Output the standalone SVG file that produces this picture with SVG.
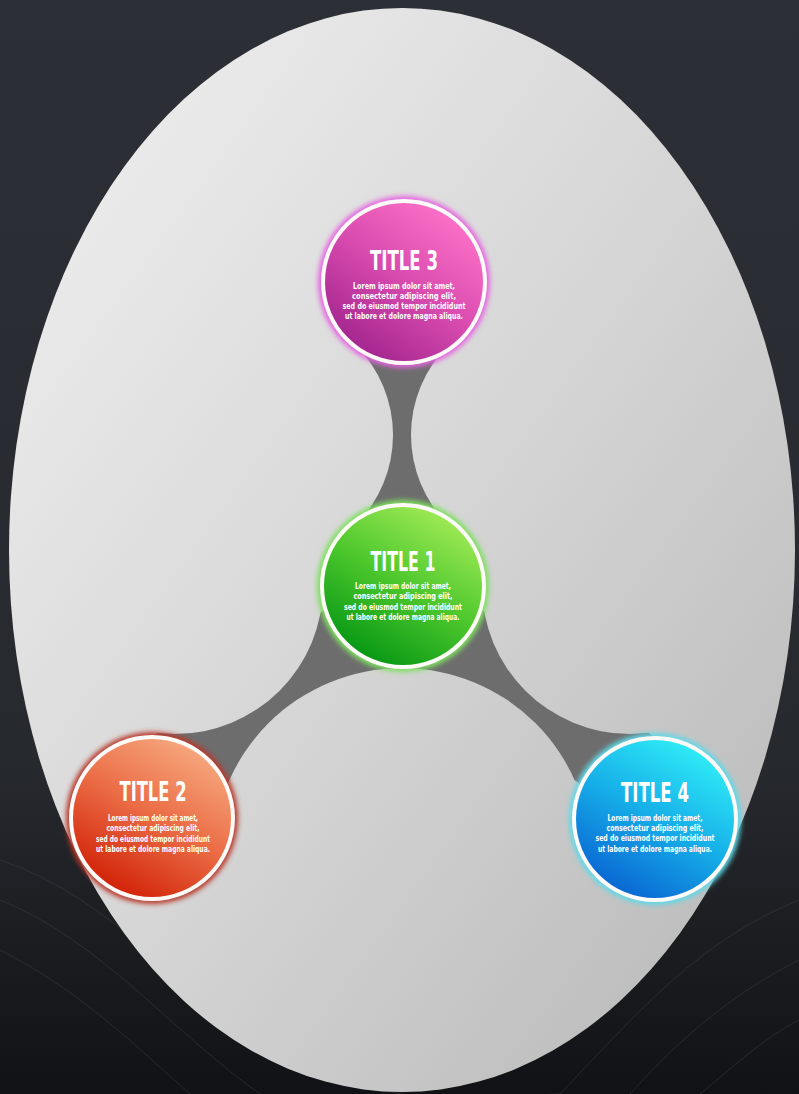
<svg xmlns="http://www.w3.org/2000/svg" width="799" height="1094" viewBox="0 0 799 1094">
  <defs>
    <linearGradient id="bg" x1="0" y1="0" x2="0" y2="1">
      <stop offset="0" stop-color="#2c2f35"/>
      <stop offset="0.7" stop-color="#26292e"/>
      <stop offset="1" stop-color="#111215"/>
    </linearGradient>
    <linearGradient id="egg" x1="0.1" y1="0.1" x2="0.9" y2="0.9">
      <stop offset="0" stop-color="#ececec"/>
      <stop offset="0.5" stop-color="#d6d6d6"/>
      <stop offset="1" stop-color="#bcbcbc"/>
    </linearGradient>
    <linearGradient id="gPink" x1="0.8" y1="0.1" x2="0.2" y2="0.9">
      <stop offset="0" stop-color="#fb6fc6"/>
      <stop offset="0.5" stop-color="#d84aae"/>
      <stop offset="1" stop-color="#a52790"/>
    </linearGradient>
    <linearGradient id="gGreen" x1="0.8" y1="0.1" x2="0.3" y2="0.95">
      <stop offset="0" stop-color="#9be853"/>
      <stop offset="0.5" stop-color="#4cc72c"/>
      <stop offset="1" stop-color="#0b9a16"/>
    </linearGradient>
    <linearGradient id="gRed" x1="0.8" y1="0.1" x2="0.3" y2="0.95">
      <stop offset="0" stop-color="#f6a47b"/>
      <stop offset="0.5" stop-color="#ea6a43"/>
      <stop offset="1" stop-color="#d3260b"/>
    </linearGradient>
    <linearGradient id="gBlue" x1="0.8" y1="0.1" x2="0.3" y2="0.95">
      <stop offset="0" stop-color="#2ee9f6"/>
      <stop offset="0.5" stop-color="#16aee8"/>
      <stop offset="1" stop-color="#0a6ad4"/>
    </linearGradient>
    <filter id="glow" x="-20%" y="-20%" width="140%" height="140%">
      <feGaussianBlur stdDeviation="2.5"/>
    </filter>
    <mask id="holes" maskUnits="userSpaceOnUse" x="0" y="0" width="799" height="1094">
      <rect x="0" y="0" width="799" height="1094" fill="#fff"/>
      <circle cx="266" cy="435" r="127" fill="#000"/>
      <circle cx="538" cy="435" r="127" fill="#000"/>
      <circle cx="175" cy="586" r="148" fill="#000"/>
      <circle cx="630" cy="586" r="148" fill="#000"/>
      <circle cx="402" cy="857" r="189" fill="#000"/>
    </mask>
    <style>
      .glow { filter: url(#glow); }
      .ring { fill: #fdfaf8; }
      .title { font-family: "DejaVu Sans Condensed", "Liberation Sans Narrow", "Liberation Sans", sans-serif; font-weight: bold; font-size: 27px; fill: #ffffff; text-anchor: middle; }
      .body { font-family: "DejaVu Sans Condensed", "Liberation Sans Narrow", "Liberation Sans", sans-serif; font-weight: bold; font-size: 9.5px; fill: #ffffff; text-anchor: middle; }
      .wave { fill: none; stroke: #4a4d53; stroke-opacity: 0.35; stroke-width: 1; }
    </style>
  </defs>

  <g id="background">
    <rect x="0" y="0" width="799" height="1094" fill="url(#bg)"/>
    <path class="wave" d="M0 860 C120 900 180 1000 300 1060 S 520 1094 560 1094"/>
    <path class="wave" d="M0 900 C100 940 170 1030 260 1094"/>
    <path class="wave" d="M0 950 C80 990 140 1050 190 1094"/>
    <path class="wave" d="M799 900 C700 940 640 1010 560 1094"/>
    <path class="wave" d="M799 960 C720 1000 670 1050 630 1094"/>
    <path class="wave" d="M799 1020 C760 1040 730 1070 700 1094"/>
    <ellipse id="egg-shape" cx="402" cy="550" rx="393" ry="542" fill="url(#egg)"/>
  </g>

  <g id="connectors" fill="#6d6d6d" mask="url(#holes)">
    <polygon points="358,330 448,330 448,540 358,540"/>
    <polygon points="340,598 402,662 200,802 148,740"/>
    <polygon points="466,598 404,662 606,802 658,740"/>
  </g>

  <g id="node-title3">
    <circle class="glow" cx="404" cy="282" r="86" fill="#e465e0"/>
    <circle class="ring" cx="404" cy="282" r="83"/>
    <circle cx="404" cy="282" r="79" fill="url(#gPink)"/>
    <text class="title" x="404" y="270" textLength="68" lengthAdjust="spacingAndGlyphs">TITLE 3</text>
    <text class="body" x="404" y="289" textLength="102" lengthAdjust="spacingAndGlyphs">Lorem ipsum dolor sit amet,</text>
    <text class="body" x="404" y="299" textLength="104" lengthAdjust="spacingAndGlyphs">consectetur adipiscing elit,</text>
    <text class="body" x="404" y="309" textLength="123" lengthAdjust="spacingAndGlyphs">sed do eiusmod tempor incididunt</text>
    <text class="body" x="404" y="319" textLength="118" lengthAdjust="spacingAndGlyphs">ut labore et dolore magna aliqua.</text>
  </g>

  <g id="node-title1">
    <circle class="glow" cx="403" cy="586" r="86" fill="#7ee060"/>
    <circle class="ring" cx="403" cy="586" r="83"/>
    <circle cx="403" cy="586" r="79" fill="url(#gGreen)"/>
    <text class="title" x="403" y="571" textLength="65" lengthAdjust="spacingAndGlyphs">TITLE 1</text>
    <text class="body" x="403" y="589" textLength="96" lengthAdjust="spacingAndGlyphs">Lorem ipsum dolor sit amet,</text>
    <text class="body" x="403" y="599" textLength="99" lengthAdjust="spacingAndGlyphs">consectetur adipiscing elit,</text>
    <text class="body" x="403" y="610" textLength="118" lengthAdjust="spacingAndGlyphs">sed do eiusmod tempor incididunt</text>
    <text class="body" x="403" y="620" textLength="113" lengthAdjust="spacingAndGlyphs">ut labore et dolore magna aliqua.</text>
  </g>

  <g id="node-title2">
    <circle class="glow" cx="152" cy="818" r="86" fill="#b8372a"/>
    <circle class="ring" cx="152" cy="818" r="83"/>
    <circle cx="152" cy="818" r="79" fill="url(#gRed)"/>
    <text class="title" x="153" y="801" textLength="67" lengthAdjust="spacingAndGlyphs">TITLE 2</text>
    <text class="body" x="153" y="821" textLength="90" lengthAdjust="spacingAndGlyphs">Lorem ipsum dolor sit amet,</text>
    <text class="body" x="153" y="831" textLength="93" lengthAdjust="spacingAndGlyphs">consectetur adipiscing elit,</text>
    <text class="body" x="153" y="842" textLength="114" lengthAdjust="spacingAndGlyphs">sed do eiusmod tempor incididunt</text>
    <text class="body" x="153" y="852" textLength="114" lengthAdjust="spacingAndGlyphs">ut labore et dolore magna aliqua.</text>
  </g>

  <g id="node-title4">
    <circle class="glow" cx="655" cy="819" r="86" fill="#5fd9e8"/>
    <circle class="ring" cx="655" cy="819" r="83"/>
    <circle cx="655" cy="819" r="79" fill="url(#gBlue)"/>
    <text class="title" x="655" y="802" textLength="68" lengthAdjust="spacingAndGlyphs">TITLE 4</text>
    <text class="body" x="655" y="821" textLength="95" lengthAdjust="spacingAndGlyphs">Lorem ipsum dolor sit amet,</text>
    <text class="body" x="655" y="831" textLength="97" lengthAdjust="spacingAndGlyphs">consectetur adipiscing elit,</text>
    <text class="body" x="655" y="841" textLength="119" lengthAdjust="spacingAndGlyphs">sed do eiusmod tempor incididunt</text>
    <text class="body" x="655" y="852" textLength="114" lengthAdjust="spacingAndGlyphs">ut labore et dolore magna aliqua.</text>
  </g>
</svg>
